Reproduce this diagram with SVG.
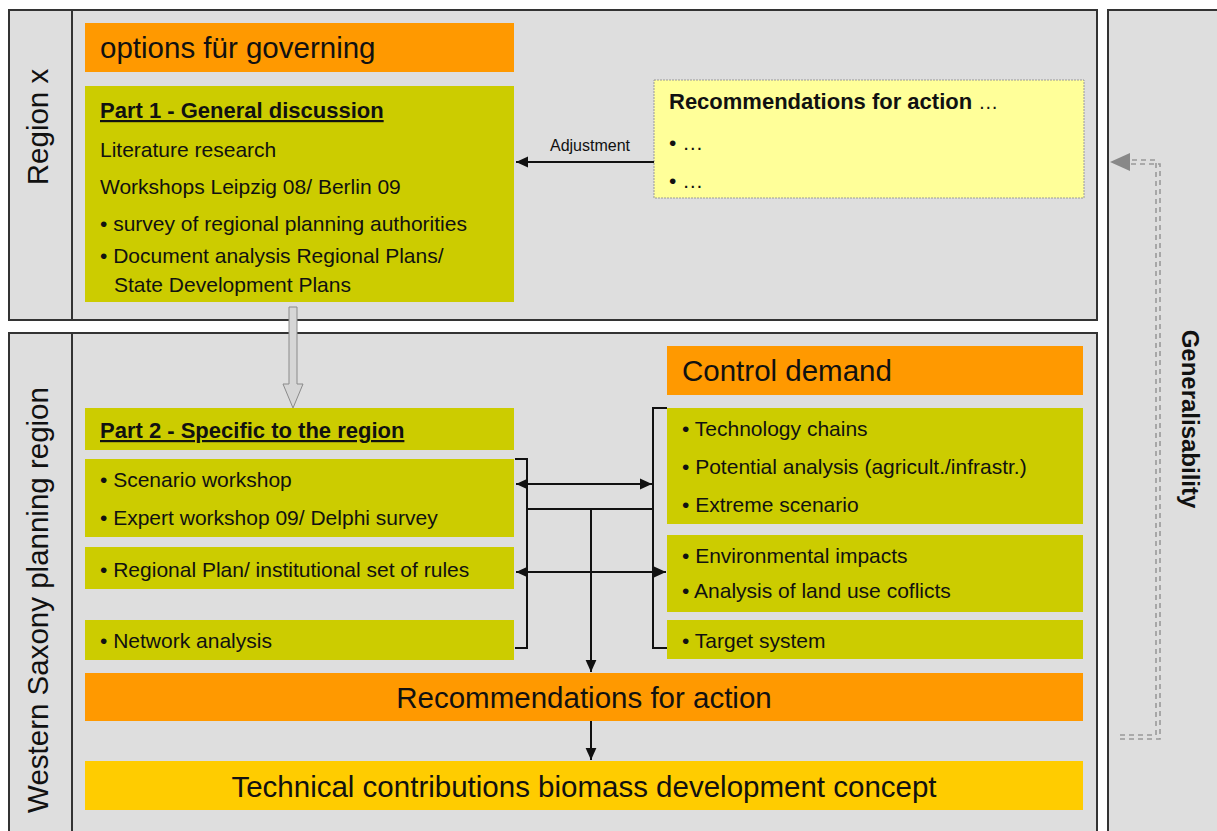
<svg xmlns="http://www.w3.org/2000/svg" width="1217" height="831" viewBox="0 0 1217 831">
<defs>
<style>
text{font-family:"Liberation Sans",Arial,sans-serif;fill:#111}
.panel{fill:#dedede;stroke:#333;stroke-width:2}
.div{stroke:#333;stroke-width:2}
.or{fill:#ff9900}
.ol{fill:#cccc00}
.ye{fill:#ffcc00}
.b{font-size:21px}
.t{font-size:22px;font-weight:bold;text-decoration:underline}
.big{font-size:29.5px}
.conn{stroke:#111;stroke-width:2;fill:none}
.dash{stroke:#999;stroke-width:1.6;stroke-dasharray:5 4;fill:none}
</style>
<marker id="ah" viewBox="0 0 10 10" refX="10" refY="5" markerWidth="6" markerHeight="6" orient="auto-start-reverse" markerUnits="strokeWidth">
<path d="M0,0.5 L10,5 L0,9.5 z" fill="#111"/>
</marker>
</defs>
<rect width="1217" height="831" fill="#fff"/>

<g id="panel-region-x">
<rect class="panel" x="9" y="10" width="1088" height="310"/>
<line class="div" x1="72" y1="10" x2="72" y2="320"/>
<text class="big" transform="translate(48,127) rotate(-90)" text-anchor="middle">Region x</text>
</g>

<g id="panel-western-saxony">
<rect class="panel" x="9" y="333" width="1088" height="510"/>
<line class="div" x1="72" y1="333" x2="72" y2="831"/>
<text class="big" transform="translate(48,600) rotate(-90)" text-anchor="middle">Western Saxony planning region</text>
</g>

<g id="panel-generalisability">
<rect class="panel" x="1108" y="10" width="120" height="840"/>
<text transform="translate(1182,419) rotate(90)" text-anchor="middle" font-size="24" font-weight="bold">Generalisability</text>
</g>

<g id="options">
<rect class="or" x="85" y="23" width="429" height="49"/>
<text class="big" x="100" y="58">options für governing</text>
</g>

<g id="part1">
<rect class="ol" x="85" y="86" width="429" height="216"/>
<text class="t" x="100" y="118">Part 1 - General discussion</text>
<text class="b" x="100" y="157">Literature research</text>
<text class="b" x="100" y="194">Workshops Leipzig 08/ Berlin 09</text>
<text class="b" x="100" y="231">• survey of regional planning authorities</text>
<text class="b" x="100" y="263">• Document analysis Regional Plans/</text>
<text class="b" x="114" y="292">State Development Plans</text>
</g>

<g id="recommendations-draft">
<rect x="654" y="80" width="430" height="118" fill="#ffff99" stroke="#999" stroke-width="1" stroke-dasharray="2 1"/>
<text x="669" y="109" font-size="22" font-weight="bold">Recommendations for action <tspan font-weight="normal" font-size="20">…</tspan></text>
<text class="b" x="669" y="150">• …</text>
<text class="b" x="669" y="188">• …</text>
</g>

<g id="control-demand">
<rect class="or" x="667" y="346" width="416" height="49"/>
<text class="big" x="682" y="381">Control demand</text>
</g>

<g id="part2-title">
<rect class="ol" x="85" y="408" width="429" height="42"/>
<text class="t" x="100" y="438">Part 2 - Specific to the region</text>
</g>
<g id="workshops">
<rect class="ol" x="85" y="459" width="429" height="78"/>
<text class="b" x="100" y="487">• Scenario workshop</text>
<text class="b" x="100" y="525">• Expert workshop 09/ Delphi survey</text>
</g>
<g id="regional-plan">
<rect class="ol" x="85" y="547" width="429" height="42"/>
<text class="b" x="100" y="577">• Regional Plan/ institutional set of rules</text>
</g>
<g id="network">
<rect class="ol" x="85" y="620" width="429" height="40"/>
<text class="b" x="100" y="648">• Network analysis</text>
</g>

<g id="technology">
<rect class="ol" x="667" y="408" width="416" height="116"/>
<text class="b" x="682" y="436">• Technology chains</text>
<text class="b" x="682" y="474">• Potential analysis (agricult./infrastr.)</text>
<text class="b" x="682" y="512">• Extreme scenario</text>
</g>
<g id="environment">
<rect class="ol" x="667" y="535" width="416" height="77"/>
<text class="b" x="682" y="563">• Environmental impacts</text>
<text class="b" x="682" y="598">• Analysis of land use coflicts</text>
</g>
<g id="target">
<rect class="ol" x="667" y="620" width="416" height="39"/>
<text class="b" x="682" y="648">• Target system</text>
</g>

<g id="recommendations">
<rect class="or" x="85" y="673" width="998" height="48"/>
<text class="big" x="584" y="708" text-anchor="middle">Recommendations for action</text>
</g>
<g id="technical">
<rect class="ye" x="85" y="761" width="998" height="49"/>
<text class="big" x="584" y="797" text-anchor="middle">Technical contributions biomass development concept</text>
</g>

<g id="connectors">
<line class="conn" x1="654" y1="162" x2="516" y2="162" marker-end="url(#ah)"/>
<text x="590" y="151" font-size="16" text-anchor="middle">Adjustment</text>
<path d="M289,307 L297,307 L297,384 L303,384 L293,408 L283,384 L289,384 Z" fill="#d6d6d6" stroke="#8a8a8a" stroke-width="1"/>
<path class="conn" d="M515,459 L527,459 L527,648 L515,648"/>
<path class="conn" d="M667,408 L653,408 L653,648 L667,648"/>
<line class="conn" x1="516" y1="484" x2="652" y2="484" marker-start="url(#ah)" marker-end="url(#ah)"/>
<line class="conn" x1="516" y1="572" x2="666" y2="572" marker-start="url(#ah)" marker-end="url(#ah)"/>
<line class="conn" x1="527" y1="509" x2="653" y2="509"/>
<line class="conn" x1="591" y1="509" x2="591" y2="672" marker-end="url(#ah)"/>
<line class="conn" x1="591" y1="721" x2="591" y2="760" marker-end="url(#ah)"/>
<path class="dash" d="M1120,735 L1156,735 L1156,160 L1126,160"/>
<path class="dash" d="M1120,739 L1160,739 L1160,164 L1126,164"/>
<path d="M1110,162 L1130,153 L1130,171 Z" fill="#888"/>
</g>
</svg>
